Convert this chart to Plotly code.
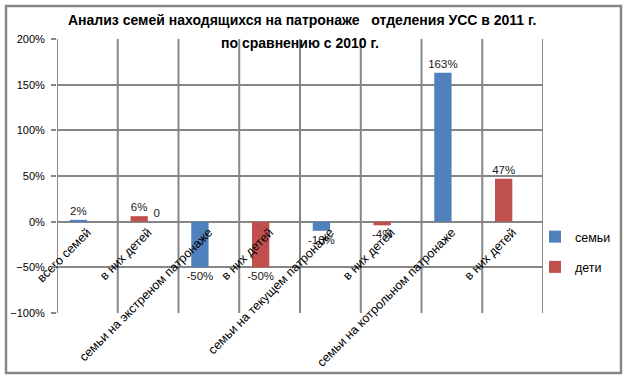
import plotly.graph_objects as go

categories = ["всего семей", "в них детей", "семьи на экстреном патронаже", "в них детей",
              "семьи на текущем патронаже", "в них детей", "семьи на котрольном патронаже", "в них детей"]
semyi_values = [0.02, None, -0.50, None, -0.10, None, 1.63, None]
deti_values = [None, 0.06, None, -0.50, None, -0.04, None, 0.47]
zero_series = [None, 0, None, None, None, None, None, None]
y_ticks = [-1.0, -0.5, 0.0, 0.5, 1.0, 1.5, 2.0]
title_lines = ["Анализ семей находящихся на патронаже   отделения УСС в 2011 г.",
               "по сравнению с 2010 г."]

GRID = "#868686"
FONT = "Liberation Sans"

# pixel geometry of plot area
L, R, T, B = 57, 543, 39, 313
W, H = 624, 378
pw, ph = R - L, B - T

def px_x(px):
    return (px - L) / pw

def px_y(py):
    return (B - py) / ph

def pct_text(vals):
    return ["" if v is None else f"{round(v*100):.0f}%" for v in vals]

label_font = dict(family=FONT, size=11.5, color="#1a1a1a")

fig = go.Figure()
fig.add_trace(go.Bar(
    x=list(range(len(categories))), y=semyi_values, name="семьи",
    marker=dict(color="#4F81BD", line=dict(width=0)),
    offset=-0.29, width=0.285,
    text=pct_text(semyi_values), textposition="outside", constraintext="none",
    textfont=label_font, cliponaxis=False, legendgroup="a",
))
fig.add_trace(go.Bar(
    x=list(range(len(categories))), y=deti_values, name="дети",
    marker=dict(color="#C0504D", line=dict(width=0)),
    offset=-0.29, width=0.285,
    text=pct_text(deti_values), textposition="outside", constraintext="none",
    textfont=label_font, cliponaxis=False, legendgroup="b",
))
fig.add_trace(go.Bar(
    x=list(range(len(categories))), y=zero_series, name="",
    marker=dict(color="#C0504D", line=dict(width=0)),
    offset=0.0, width=0.285,
    text=["" if v is None else f"{v}" for v in zero_series], textposition="outside",
    constraintext="none", textfont=label_font, cliponaxis=False, showlegend=False,
))

fig.update_layout(
    width=W, height=H,
    margin=dict(l=L, r=W - R, t=T, b=H - B, pad=0, autoexpand=False),
    paper_bgcolor="white", plot_bgcolor="white",
    barmode="overlay",
    font=dict(family=FONT, size=11, color="black"),
    showlegend=True,
    legend=dict(xref="container", yref="container",
                x=535 / W, y=1 - 222 / H, xanchor="left", yanchor="top",
                traceorder="grouped", tracegroupgap=11,
                font=dict(family=FONT, size=12.5, color="black"),
                bgcolor="rgba(0,0,0,0)"),
    xaxis=dict(
        type="linear", range=[-0.5, len(categories) - 0.5],
        tickmode="array", tickvals=list(range(len(categories))), ticktext=categories,
        tickangle=-45, showgrid=False, zeroline=False, showline=False,
        anchor="free", position=(0 - y_ticks[0]) / (y_ticks[-1] - y_ticks[0]),
        tickfont=dict(family=FONT, size=12.5, color="black"), ticks="", automargin=False,
    ),
    yaxis=dict(
        range=[y_ticks[0], y_ticks[-1]], tickvals=y_ticks, tickformat=".0%",
        showgrid=True, gridcolor=GRID, gridwidth=2,
        zeroline=True, zerolinecolor=GRID, zerolinewidth=2,
        showline=False, ticks="outside", ticklen=5, tickcolor=GRID, tickwidth=2,
        tickfont=dict(family=FONT, size=11, color="black"), ticklabelstandoff=4,
        automargin=False,
    ),
)

# vertical gridlines at category boundaries
shapes = []
for i in range(len(categories) + 1):
    shapes.append(dict(type="line", xref="x", yref="paper", x0=i - 0.5, x1=i - 0.5,
                       y0=0, y1=1, line=dict(color=GRID, width=2), layer="below"))
# outer chart border
shapes.append(dict(type="rect", xref="paper", yref="paper",
                   x0=px_x(6), x1=px_x(621), y0=px_y(373), y1=px_y(6),
                   line=dict(color=GRID, width=2.5)))
fig.update_layout(shapes=shapes)

fig.add_annotation(text=f"<b>{title_lines[0]}</b>", xref="paper", yref="paper",
                   x=px_x(302), y=px_y(20), showarrow=False, xanchor="center", yanchor="middle",
                   font=dict(family=FONT, size=14, color="black"))
fig.add_annotation(text=f"<b>{title_lines[1]}</b>", xref="paper", yref="paper",
                   x=px_x(300), y=px_y(43), showarrow=False, xanchor="center", yanchor="middle",
                   font=dict(family=FONT, size=14, color="black"))

fig.write_html("out.html", config={"displayModeBar": False},
               post_script="document.body.style.margin='0';document.body.style.overflow='hidden';")
